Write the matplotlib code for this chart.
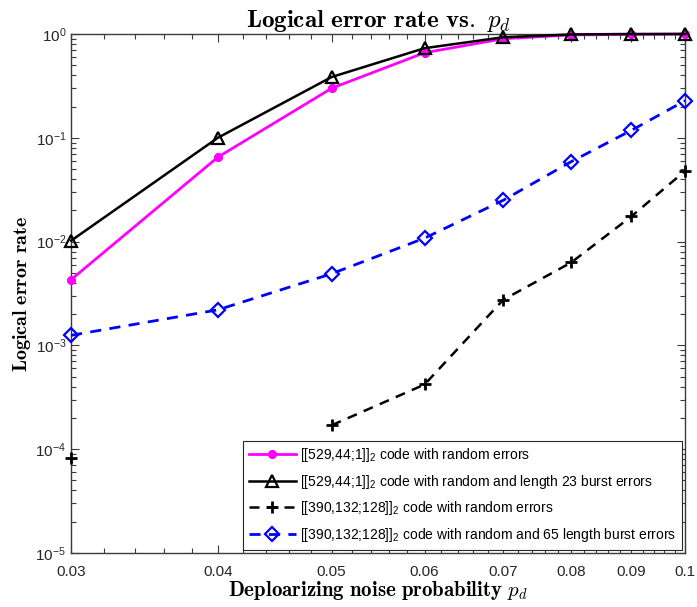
import numpy as np
import matplotlib
matplotlib.use("Agg")
import matplotlib.pyplot as plt
from matplotlib.ticker import FixedLocator, FuncFormatter, LogLocator, NullFormatter

plt.rcParams['font.family'] = ['Liberation Sans', 'DejaVu Sans']
plt.rcParams['mathtext.fontset'] = 'cm'

# depolarizing probability
p_d = [0.03, 0.04, 0.05, 0.06, 0.07, 0.08, 0.09, 0.1]
x_ticklabels = ['0.03', '0.04', '0.05', '0.06', '0.07', '0.08', '0.09', '0.1']

# logical error rates
rand_529 = [4.3e-3, 0.065, 0.30, 0.66, 0.90, 0.98, 0.99, 1.0]
burst_529 = [1.02e-2, 0.10, 0.385, 0.73, 0.93, 0.99, 1.0, 1.0]
rand_390 = [8.3e-5, np.nan, 1.7e-4, 4.2e-4, 2.75e-3, 6.3e-3, 1.75e-2, 4.8e-2]
burst_390 = [1.25e-3, 2.2e-3, 4.9e-3, 1.08e-2, 2.5e-2, 5.9e-2, 0.118, 0.228]

labels = [r'[[529,44;1]]$\mathregular{_2}$ code with random errors',
          r'[[529,44;1]]$\mathregular{_2}$ code with random and length 23 burst errors',
          r'[[390,132;128]]$\mathregular{_2}$ code with random errors',
          r'[[390,132;128]]$\mathregular{_2}$ code with random and 65 length burst errors']

fig = plt.figure(figsize=(6.97, 6.07), dpi=100)
ax = fig.add_axes([0.102, 0.089, 0.881, 0.855])

ax.plot(p_d, rand_529, '-', color=(1, 0, 1), lw=2, marker=(8, 2, 0), ms=6, mew=2.2,
        label=labels[0], clip_on=False, zorder=3)
ax.plot(p_d, burst_529, '-', color='k', lw=1.8, marker='^', ms=9, mfc='none', mew=1.6,
        label=labels[1], clip_on=False, zorder=4)
ax.plot(p_d, rand_390, '--', color='k', lw=1.8, marker='+', ms=9, mew=2,
        dashes=(4, 3), label=labels[2], clip_on=False, zorder=3)
ax.plot(p_d, burst_390, '--', color='b', lw=2, marker='D', ms=7, mfc='none', mew=1.6,
        dashes=(4, 3), label=labels[3], clip_on=False, zorder=3)

ax.set_xscale('log')
ax.set_yscale('log')
ax.set_xlim(0.03, 0.1)
ax.set_ylim(1e-5, 1)

ax.xaxis.set_major_locator(FixedLocator(p_d))
ax.xaxis.set_major_formatter(FuncFormatter(lambda v, pos: x_ticklabels[pos] if pos is not None and pos < len(x_ticklabels) else ''))
minor_x = [v for v in np.arange(0.03, 0.1001, 0.002) if min(abs(v - m) for m in p_d) > 1e-6]
ax.xaxis.set_minor_locator(FixedLocator(minor_x))
ax.xaxis.set_minor_formatter(NullFormatter())

ax.yaxis.set_major_locator(LogLocator(base=10, numticks=10))
ax.yaxis.set_minor_locator(LogLocator(base=10, subs=np.arange(2, 10), numticks=10))
ax.yaxis.set_minor_formatter(NullFormatter())
ax.yaxis.set_major_formatter(FuncFormatter(lambda v, pos: r'$\mathregular{10^{%d}}$' % round(np.log10(v))))

axis_col = '#3a3a3a'
for s in ax.spines.values():
    s.set_color(axis_col)
    s.set_linewidth(1.0)
ax.tick_params(which='both', direction='in', top=True, right=True, colors=axis_col,
               labelcolor='#262626', labelsize=11)
ax.tick_params(which='major', length=6, width=0.8)
ax.tick_params(which='minor', length=3.5, width=0.8)
ax.tick_params(axis='x', which='major', pad=9)

ax.set_title(r'$\mathbf{Logical\ error\ rate\ vs.}\ p_d$', fontsize=18, pad=3)
ax.set_xlabel(r'$\mathbf{Deploarizing\ noise\ probability}\ p_d$', fontsize=15, labelpad=0)
ax.set_ylabel(r'$\mathbf{Logical\ error\ rate}$', fontsize=14.5, labelpad=2)

leg = ax.legend(loc='lower right', fontsize=10, handlelength=3.4, borderaxespad=0.25,
                fancybox=False, framealpha=1, edgecolor='#262626', borderpad=0.4,
                labelspacing=0.62, handletextpad=0.3)
leg.get_frame().set_linewidth(0.8)

fig.savefig('out.png', dpi=100)
